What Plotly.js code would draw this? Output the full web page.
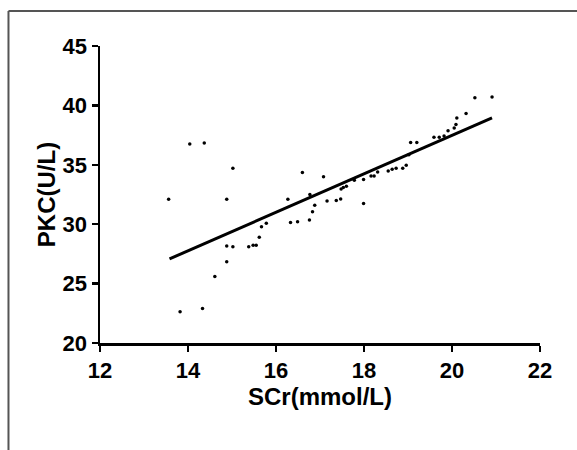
<!DOCTYPE html>
<html>
<head>
<meta charset="utf-8">
<script src="https://cdn.plot.ly/plotly-3.0.1.min.js"></script>
<style>html,body{margin:0;padding:0;background:#fff;}#chart{width:577px;height:450px;}</style>
</head>
<body>
<div id="chart"></div>
<script>
// Scatter points: SCr (mmol/L) vs PKC (U/L)
const scr = [13.56, 14.04, 14.37, 13.82, 14.33, 14.61, 14.88, 15.02, 14.88, 15.02,
  14.88, 15.38, 15.48, 15.55, 15.62, 15.67, 15.78, 16.27, 16.33, 16.49,
  16.60, 16.76, 16.77, 16.83, 16.88, 17.08, 17.16, 17.37, 17.47, 17.48,
  17.53, 17.60, 17.78, 17.99, 17.99, 18.16, 18.23, 18.31, 18.55, 18.64,
  18.73, 18.88, 18.96, 19.02, 19.06, 19.20, 19.59, 19.71, 19.82, 19.91,
  20.05, 20.09, 20.11, 20.32, 20.52, 20.91];
const pkc = [32.09, 36.75, 36.84, 22.62, 22.90, 25.60, 32.09, 34.70, 28.16, 28.11,
  26.83, 28.11, 28.22, 28.22, 28.90, 29.78, 30.07, 32.09, 30.15, 30.21,
  34.36, 30.35, 32.51, 31.04, 31.60, 33.99, 31.95, 32.00, 32.12, 32.97,
  33.08, 33.20, 33.71, 33.77, 31.75, 34.05, 34.05, 34.39, 34.48, 34.62,
  34.70, 34.70, 34.96, 35.84, 36.87, 36.87, 37.32, 37.32, 37.43, 37.86,
  38.09, 38.40, 38.94, 39.31, 40.65, 40.71];
// Fitted regression line endpoints
const fitX = [13.58, 20.91];
const fitY = [27.08, 38.94];
// Axis ticks
const xTicks = [12, 14, 16, 18, 20, 22];
const yTicks = [20, 25, 30, 35, 40, 45];

const font = "Arial, 'Liberation Sans', sans-serif";

const traces = [
  {x: scr, y: pkc, type: 'scatter', mode: 'markers',
   marker: {color: '#000', size: 3.5}, hoverinfo: 'x+y', cliponaxis: false},
  {x: fitX, y: fitY, type: 'scatter', mode: 'lines',
   line: {color: '#000', width: 3}, hoverinfo: 'none'}
];

const layout = {
  width: 577, height: 450,
  margin: {l: 100, r: 37, t: 46, b: 107},
  paper_bgcolor: '#fff', plot_bgcolor: '#fff',
  showlegend: false,
  font: {family: font, color: '#000'},
  xaxis: {
    range: [12, 22], tickvals: xTicks, ticktext: xTicks.map(String),
    showgrid: false, zeroline: false, showline: true, linecolor: '#000', linewidth: 2.5,
    ticks: 'outside', ticklen: 6, tickwidth: 2.5, tickcolor: '#000',
    tickfont: {family: font, size: 22, weight: 'bold', color: '#000'},
    title: {text: 'SCr(mmol/L)', font: {family: font, size: 24, weight: 'bold', color: '#000'}, standoff: 6}
  },
  yaxis: {
    range: [20, 45], tickvals: yTicks, ticktext: yTicks.map(String),
    showgrid: false, zeroline: false, showline: true, linecolor: '#000', linewidth: 2.5,
    ticks: 'outside', ticklen: 6, tickwidth: 2.5, tickcolor: '#000',
    tickfont: {family: font, size: 22, weight: 'bold', color: '#000'},
    title: {text: 'PKC(U/L)', font: {family: font, size: 24, weight: 'bold', color: '#000'}, standoff: 0}
  },
  shapes: [
    {type: 'line', xref: 'paper', yref: 'paper', x0: -0.208, x1: -0.208, y0: -0.37, y1: 1.118,
     line: {color: '#555', width: 2}},
    {type: 'line', xref: 'paper', yref: 'paper', x0: -0.208, x1: 1.09, y0: 1.118, y1: 1.118,
     line: {color: '#555', width: 2}}
  ]
};

Plotly.newPlot('chart', traces, layout, {displayModeBar: false, staticPlot: true});
</script>
</body>
</html>
